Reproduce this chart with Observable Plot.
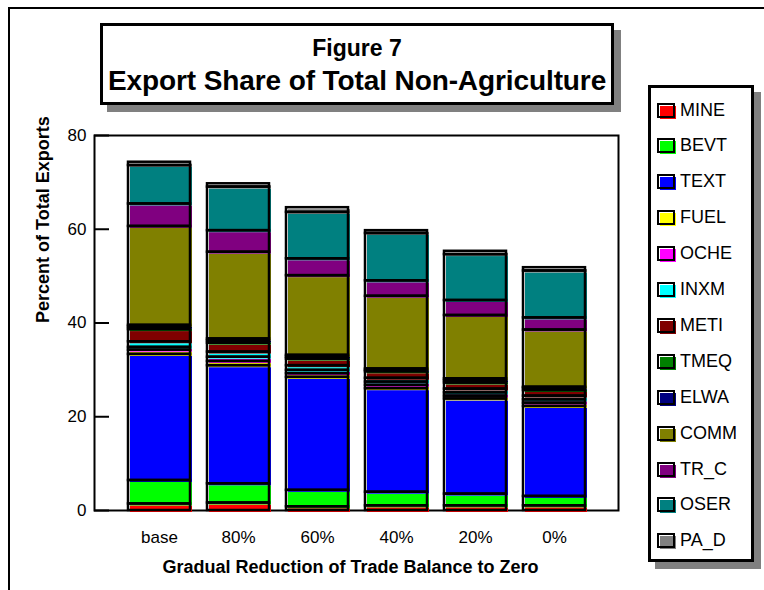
<!DOCTYPE html>
<html>
<head>
<meta charset="utf-8">
<script src="https://cdn.jsdelivr.net/npm/d3@7"></script>
<script src="https://cdn.jsdelivr.net/npm/@observablehq/plot@0.6"></script>
<style>
  html, body { margin: 0; padding: 0; background: #fff; }
  #page { position: relative; width: 764px; height: 590px; overflow: hidden; background: #fff;
          font-family: "Liberation Sans", Arial, sans-serif; color: #000; }
  #outer { position: absolute; left: 8px; top: 7px; width: 900px; height: 800px; border: 2px solid #000; }
  #chart { position: absolute; left: 0; top: 0; }
  #title { position: absolute; left: 100px; top: 23px; width: 508px; height: 76px;
           border: 3px solid #000; background: #fff; box-shadow: 7px 7px 0 #808080;
           text-align: center; font-weight: bold; }
  #title .l1 { font-size: 23px; line-height: 26px; margin-top: 9px; }
  #title .l2 { font-size: 28px; line-height: 30px; margin-top: 5px; letter-spacing: -0.1px; }
  #legend { position: absolute; left: 648px; top: 85px; width: 100px; height: 471px;
            border: 3px solid #000; background: #fff; box-shadow: 7px 7px 0 #808080; }
  .item { position: absolute; left: 6px; height: 20px; display: flex; align-items: center; font-size: 18px; }
  .sw { position: relative; width: 18px; height: 15px; margin-right: 5px; }
  .sw .f { position: absolute; left: 3px; top: 3px; width: 16px; height: 13px; }
  .sw .o { position: absolute; left: 0; top: 0; width: 14px; height: 11px; border: 2px solid #000; }
</style>
</head>
<body>
<div id="page">
  <div id="outer"></div>
  <div id="chart"></div>
  <div id="title"><div class="l1">Figure 7</div><div class="l2">Export Share of Total Non-Agriculture</div></div>
  <div id="legend"></div>
</div>
<script>
// Scenarios along the x axis
const scenarios = ["base", "80%", "60%", "40%", "20%", "0%"];

// Sectors, stacked from the bottom up, and their fill colours
const sectors = ["MINE", "BEVT", "TEXT", "FUEL", "OCHE", "INXM", "METI", "TMEQ", "ELWA", "COMM", "TR_C", "OSER", "PA_D"];
const sectorColors = ["#ff0000", "#00ff00", "#0000ff", "#ffff00", "#ff00ff", "#00ffff", "#800000",
                      "#008000", "#000080", "#808000", "#800080", "#008080", "#808080"];

// Export shares (percent of total exports) per sector, one value per scenario
const MINE = [1.4, 1.6, 0.8, 1.0, 1.0, 1.0];
const BEVT = [5.0, 4.1, 3.5, 2.9, 2.5, 2.0];
const TEXT = [26.9, 25.2, 24.1, 22.1, 20.3, 19.2];
const FUEL = [0.9, 0.9, 0.8, 0.7, 0.6, 0.7];
const OCHE = [0.6, 0.9, 0.7, 0.7, 0.7, 0.7];
const INXM = [1.2, 1.1, 1.0, 0.8, 0.8, 0.8];
const METI = [2.6, 1.9, 1.4, 1.4, 1.3, 1.2];
const TMEQ = [0.5, 0.5, 0.4, 0.3, 0.5, 0.5];
const ELWA = [0.4, 0.4, 0.4, 0.3, 0.4, 0.2];
const COMM = [21.1, 18.5, 17.0, 15.5, 13.5, 12.2];
const TR_C = [4.8, 4.6, 3.6, 3.3, 3.2, 2.6];
const OSER = [8.2, 9.3, 9.9, 10.1, 9.8, 10.0];
const PA_D = [0.7, 0.7, 1.0, 0.6, 0.7, 0.7];

const yTicks = [0, 20, 40, 60, 80];
const xTitle = "Gradual Reduction of Trade Balance to Zero";
const yTitle = "Percent of Total Exports";

const series = {MINE, BEVT, TEXT, FUEL, OCHE, INXM, METI, TMEQ, ELWA, COMM, TR_C, OSER, PA_D};

// Long table in stacking order: for each scenario, sectors bottom to top
const rows = [];
scenarios.forEach((s, i) => {
  sectors.forEach(k => rows.push({scenario: s, sector: k, value: series[k][i]}));
});

const chart = Plot.plot({
  width: 764,
  height: 590,
  marginLeft: 94,
  marginRight: 146,
  marginTop: 135,
  marginBottom: 80,
  style: {fontFamily: "'Liberation Sans', Arial, sans-serif", fontSize: "17px", color: "#000", background: "transparent"},
  x: {domain: scenarios, paddingInner: 0.22, paddingOuter: 0.42, label: null},
  y: {domain: [0, 80], label: null},
  color: {domain: sectors, range: sectorColors},
  marks: [
    Plot.frame({stroke: "#000", strokeWidth: 2}),
    // colour fills, nudged down-right beneath the outlines
    Plot.barY(rows, {x: "scenario", y: "value", fill: "sector", dx: 2, dy: 2}),
    // black segment outlines
    Plot.barY(rows, {x: "scenario", y: "value", fill: "none", stroke: "#000", strokeWidth: 2.5}),
    Plot.tickY(yTicks, {y: d => d, stroke: "#000", strokeWidth: 2, insetRight: 509}),
    Plot.axisY(yTicks, {tickSize: 0, tickPadding: 8, fontSize: 17}),
    Plot.axisX({tickSize: 0, tickPadding: 20, fontSize: 17}),
    Plot.text([xTitle], {frameAnchor: "bottom", dy: 62, dx: -6, fontWeight: "bold", fontSize: 18}),
    Plot.text([yTitle], {frameAnchor: "left", dx: -51, rotate: -90, fontWeight: "bold", fontSize: 18})
  ]
});
document.getElementById("chart").appendChild(chart);

// Legend built from the same sector list and colours
const legend = document.getElementById("legend");
sectors.forEach((k, i) => {
  const item = document.createElement("div");
  item.className = "item";
  item.style.top = (12 + i * 35.9) + "px";
  item.innerHTML = `<div class="sw"><div class="f" style="background:${sectorColors[i]}"></div><div class="o"></div></div><span>${k}</span>`;
  legend.appendChild(item);
});
</script>
</body>
</html>
